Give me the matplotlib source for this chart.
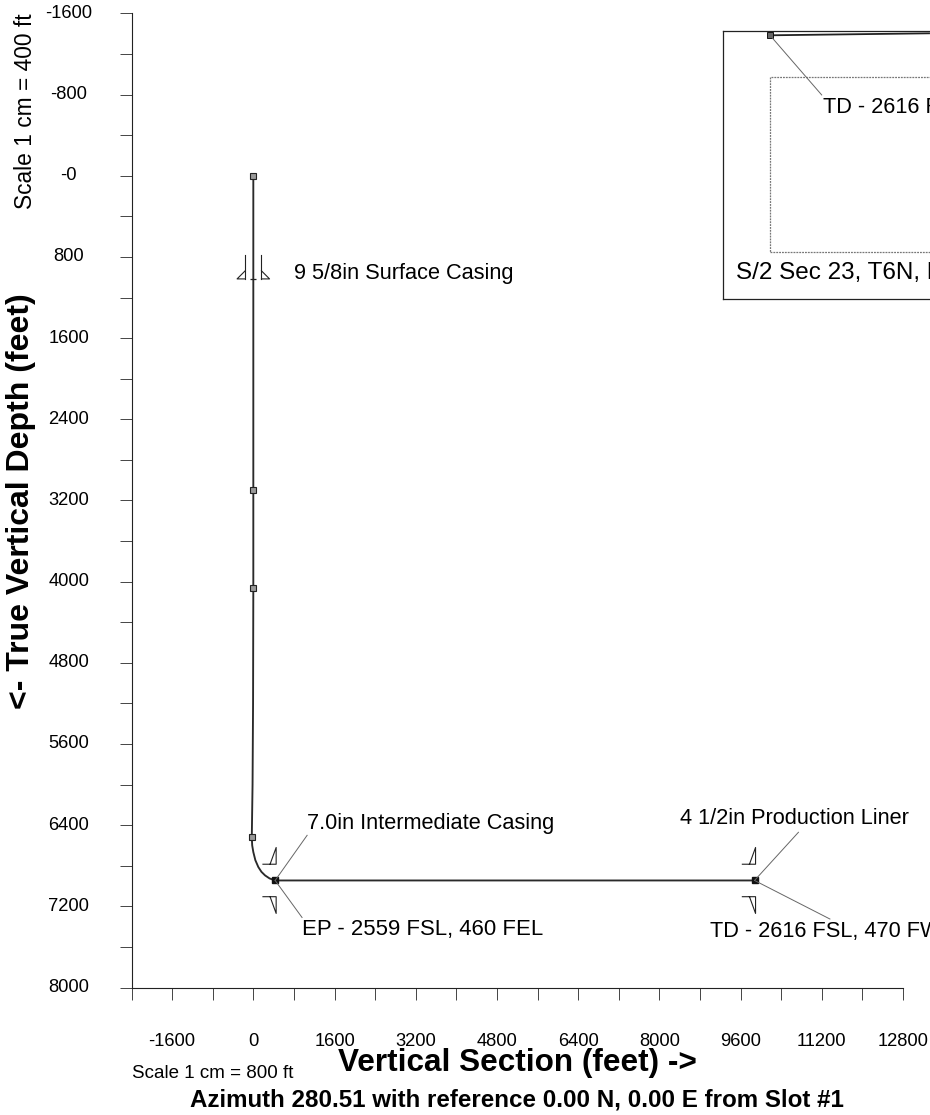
import matplotlib
matplotlib.use("Agg")
import matplotlib.pyplot as plt

plt.rcParams['font.family'] = ['Liberation Sans', 'DejaVu Sans']

W, H = 930, 1115

# ---------- data (feet) ----------
well_vs = [0, 0, 0, -5, -15, -30, -22, 0, 40, 99, 160, 231, 320, 430, 9875]
well_tvd = [0, 3100, 4064, 5200, 6000, 6520, 6600, 6665, 6745, 6813, 6860, 6895, 6925, 6945, 6945]
survey_vs = [0, 0, 0, -30]
survey_tvd = [0, 3100, 4064, 6520]
target_vs = [430, 9875]
target_tvd = [6945, 6945]
surface_vs = [0]
surface_tvd = [1016]
x_major = list(range(-1600, 12801, 1600))
x_minor = list(range(-2400, 12801, 800))
y_major = list(range(-1600, 8001, 800))
y_minor = list(range(-1600, 8001, 400))
x_labels = [str(v) for v in x_major]
y_labels = ['-1600', '-800', '-0'] + [str(v) for v in y_major[3:]]

# casing shoe symbols: offsets in feet relative to the shoe
surf_stem_x = [160, 160]
surf_stem_y = [-240, 0]
surf_tri_x = [160, 320, 160]
surf_tri_y = [-80, 0, 0]
horiz_x = [-240, 20, 20, -100]
horiz_y = [-160, -160, -325, -160]
casing_points_vs = [430, 9875]
casing_points_tvd = [6945, 6945]

# plan-view inset (feet)
plan_vs = [0, 1200, 2400]
plan_ns = [3270, 3285, 3300]
lease_x = [0, 9000, 9000, 0, 0]
lease_y = [0, 0, 2640, 2640, 0]

# leaders (feet)
leader_int_x = [430, 1060]
leader_int_y = [6945, 6500]
leader_ep_x = [430, 960]
leader_ep_y = [6945, 7310]
leader_prod_x = [9875, 10740]
leader_prod_y = [6945, 6470]
leader_td_x = [9875, 11360]
leader_td_y = [6945, 7325]
leader_plan_x = [0, 780]
leader_plan_y = [3270, 2370]

fig = plt.figure(figsize=(W / 100, H / 100), dpi=100, facecolor='white')


def fx(px):
    return px / W


def fy(py):
    return 1 - py / H


def rect(l, t, r, b):
    return [fx(l), fy(b), (r - l) / W, (b - t) / H]


# ---------- main axes ----------
ax = fig.add_axes(rect(131.5, 13.5, 903, 987.5))
ax.set_xlim(-2400, 12800)
ax.set_ylim(8000, -1600)
for s in ('top', 'right'):
    ax.spines[s].set_visible(False)
for s in ('left', 'bottom'):
    ax.spines[s].set_linewidth(0.8)
    ax.spines[s].set_color('#222222')
ax.set_xticks(x_major)
ax.set_xticklabels(x_labels)
ax.set_xticks(x_minor, minor=True)
ax.set_yticks(y_major)
ax.set_yticklabels(y_labels, ha='center')
ax.set_yticks(y_minor, minor=True)
ax.tick_params(axis='both', which='both', length=8.8, width=0.7, color='#444444', direction='out')
ax.tick_params(axis='x', which='major', pad=24, labelsize=13.2)
ax.tick_params(axis='y', which='major', pad=36.5, labelsize=13.2)
for t in ax.get_yticklabels():
    t.set_va('center')

ax.plot(well_vs, well_tvd, color='#2a2a2a', lw=1.35, solid_capstyle='butt', clip_on=False)
ax.plot(survey_vs, survey_tvd, ls='none', marker='s', ms=4.0, mfc='#999999', mec='#222222', mew=0.8)
ax.plot(target_vs, target_tvd, ls='none', marker='s', ms=4.0, color='#111111')

# casing shoes
for vs0, tvd0 in zip(surface_vs, surface_tvd):
    for sign in (-1, 1):
        ax.plot([vs0 + sign * v for v in surf_tri_x], [tvd0 + v for v in surf_tri_y], color='#222222', lw=0.8)
        ax.plot([vs0 + sign * v for v in surf_stem_x], [tvd0 + v for v in surf_stem_y], color='#222222', lw=0.8)
    ax.plot([vs0], [tvd0], ls='none', marker='_', ms=4, mew=0.9, color='#222222')
for vs0, tvd0 in zip(casing_points_vs, casing_points_tvd):
    ax.plot([vs0 + v for v in horiz_x], [tvd0 + v for v in horiz_y], color='#222222', lw=0.8)
    ax.plot([vs0 + v for v in horiz_x], [tvd0 - v for v in horiz_y], color='#222222', lw=0.8)

# leaders
for lx, ly in ((leader_int_x, leader_int_y), (leader_ep_x, leader_ep_y),
               (leader_prod_x, leader_prod_y), (leader_td_x, leader_td_y)):
    ax.plot(lx, ly, color='#666666', lw=0.7, clip_on=False)

# ---------- inset plan view ----------
ins = fig.add_axes(rect(723, 31, 1100, 298.5))
ins.set_xlim((723 - 770) * 15.09, (1100 - 770) * 15.09)
ins.set_ylim((252 - 298.5) * 15.09, (252 - 31) * 15.09)
ins.set_xticks([])
ins.set_yticks([])
for s in ins.spines.values():
    s.set_linewidth(0.9)
    s.set_color('#222222')
ins.plot(lease_x, lease_y, color='#777777', lw=0.9, ls=(0, (1.5, 0.8)))
ins.plot(plan_vs, plan_ns, color='#222222', lw=1.3)
ins.plot(plan_vs[:1], plan_ns[:1], ls='none', marker='s', ms=3.8, mfc='#666666', mec='#111111', mew=0.7)
ins.plot(leader_plan_x, leader_plan_y, color='#666666', lw=0.7)

# ---------- texts ----------
def label(px, py, s, **kw):
    kw.setdefault('fontsize', 15.7)
    kw.setdefault('ha', 'left')
    kw.setdefault('va', 'center')
    fig.text(fx(px), fy(py), s, color='black', **kw)


label(294, 273, '9 5/8in Surface Casing')
label(307, 824, '7.0in Intermediate Casing')
label(302, 929, 'EP - 2559 FSL, 460 FEL', fontsize=15.9)
label(680, 818, '4 1/2in Production Liner')
label(710, 931, 'TD - 2616 FSL, 470 FWL')
label(822.5, 107, 'TD - 2616 FSL, 470 FWL')
label(735.5, 273, 'S/2 Sec 23, T6N, R7W', fontsize=17.5)
label(25, 111, 'Scale 1 cm = 400 ft', rotation=90, ha='center', fontsize=16.4)
label(132, 1073, 'Scale 1 cm = 800 ft', fontsize=13.5)
label(21, 501, '<- True Vertical Depth (feet)', rotation=90, ha='center', fontsize=23, fontweight='bold')
label(517.5, 1063, 'Vertical Section (feet) ->', ha='center', fontsize=22.7, fontweight='bold')
label(517, 1100, 'Azimuth 280.51 with reference 0.00 N, 0.00 E from Slot #1', ha='center', fontsize=17.35, fontweight='bold')

fig.savefig('out.png', dpi=100)
